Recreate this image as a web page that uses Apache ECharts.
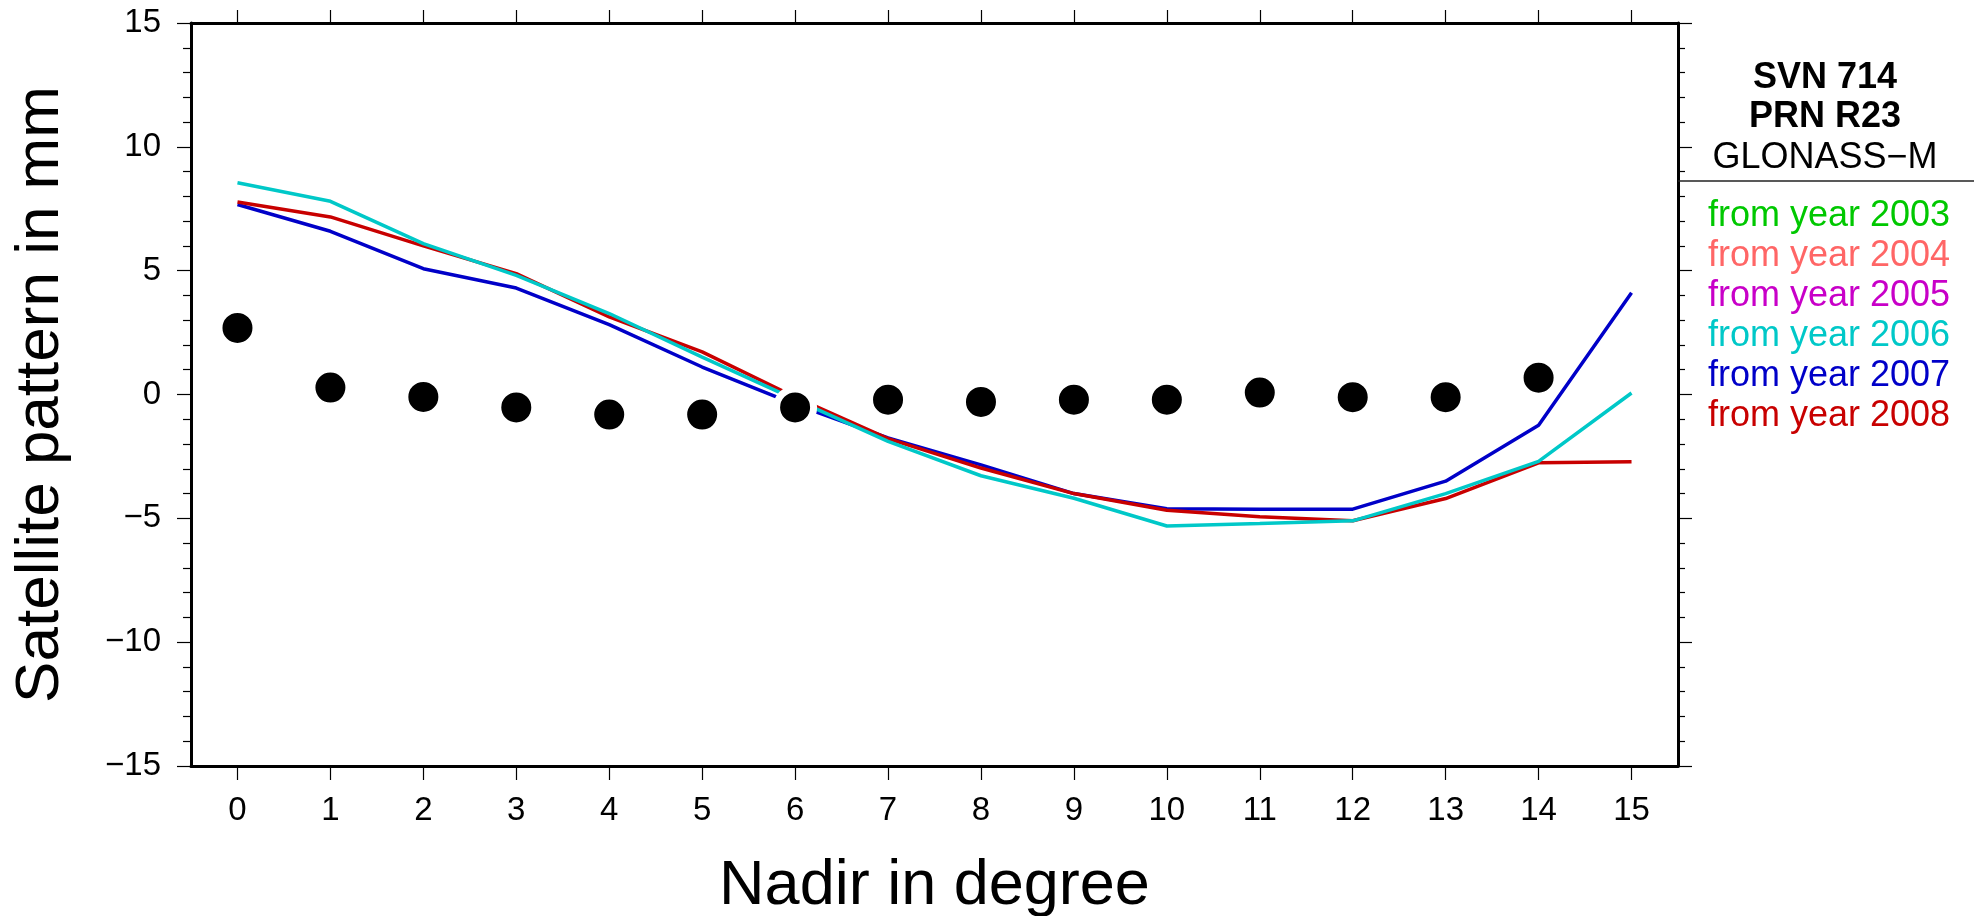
<!DOCTYPE html>
<html>
<head>
<meta charset="utf-8">
<title>SVN 714 satellite pattern</title>
<script src="https://cdn.jsdelivr.net/npm/echarts/dist/echarts.min.js"></script>
<style>
  html, body { margin: 0; padding: 0; background: #fff; }
  #chart { width: 1974px; height: 916px; }
</style>
</head>
<body>
<div id="chart"></div>
<script>
// nadir angle categories (degree)
var nadir = ['0','1','2','3','4','5','6','7','8','9','10','11','12','13','14','15'];

// pattern values in mm
var pattern2003 = [];
var pattern2004 = [];
var pattern2005 = [];
var pattern2006 = [8.55, 7.8, 6.09, 4.81, 3.27, 1.51, -0.2, -1.89, -3.28, -4.19, -5.31, -5.21, -5.1, -4.0, -2.7, 0.06];
var pattern2007 = [7.67, 6.59, 5.08, 4.3, 2.82, 1.11, -0.4, -1.75, -2.84, -4.0, -4.61, -4.63, -4.63, -3.5, -1.24, 4.11];
var pattern2008 = [7.77, 7.17, 6.0, 4.88, 3.13, 1.72, -0.1, -1.78, -2.97, -4.0, -4.67, -4.94, -5.1, -4.2, -2.76, -2.72];
// black dots
var dots = [2.69, 0.28, -0.1, -0.52, -0.81, -0.81, -0.52, -0.21, -0.3, -0.21, -0.21, 0.08, -0.11, -0.11, 0.68, null];

var years = ['2003', '2004', '2005', '2006', '2007', '2008'];
var yearColors = ['#00c800', '#ff6666', '#c800c8', '#00c8c8', '#0000c8', '#c80000'];
var headerLines = ['SVN 714', 'PRN R23', 'GLONASS\u2212M'];

var FONT = '"Liberation Sans", Arial, Helvetica, sans-serif';

var chart = echarts.init(document.getElementById('chart'));

var minus = function (v) {
  return v < 0 ? '\u2212' + Math.abs(v) : '' + v;
};

var frameLine = { show: true, onZero: false, lineStyle: { color: '#000', width: 3 } };

var lineSeries = function (idx, data, z) {
  return {
    name: 'from year ' + years[idx],
    type: 'line',
    data: data,
    symbol: 'none',
    z: z,
    lineStyle: { color: yearColors[idx], width: 3.5 },
    itemStyle: { color: yearColors[idx] }
  };
};

var legendData = [];
for (var i = 0; i < years.length; i++) {
  legendData.push({ name: 'from year ' + years[i], textStyle: { color: yearColors[i] } });
}

var option = {
  animation: false,
  backgroundColor: '#fff',
  textStyle: { fontFamily: FONT },
  grid: { left: 191, right: 296, top: 23, bottom: 150, containLabel: false, outerBoundsMode: 'none' },
  legend: {
    data: legendData,
    orient: 'vertical',
    left: 1698,
    top: 193,
    icon: 'none',
    itemWidth: 0,
    itemHeight: 36,
    itemGap: 4,
    selectedMode: false,
    textStyle: { fontSize: 36, fontFamily: FONT }
  },
  xAxis: [
    {
      type: 'category',
      data: nadir,
      position: 'bottom',
      boundaryGap: true,
      axisLine: frameLine,
      axisTick: { show: true, alignWithLabel: true, interval: 0, length: 14, lineStyle: { color: '#000', width: 1.2 } },
      axisLabel: { interval: 0, fontSize: 33, color: '#000', margin: 28, fontFamily: FONT },
      splitLine: { show: false },
      name: 'Nadir in degree',
      nameLocation: 'middle',
      nameGap: 89,
      nameTextStyle: { fontSize: 63, color: '#000', fontFamily: FONT }
    },
    {
      type: 'category',
      data: nadir,
      position: 'top',
      boundaryGap: true,
      axisLine: frameLine,
      axisTick: { show: true, alignWithLabel: true, interval: 0, length: 13, lineStyle: { color: '#000', width: 1.2 } },
      axisLabel: { show: false },
      splitLine: { show: false }
    }
  ],
  yAxis: [
    {
      type: 'value',
      position: 'left',
      min: -15,
      max: 15,
      interval: 5,
      axisLine: frameLine,
      axisTick: { show: true, length: 14, lineStyle: { color: '#000', width: 1.2 } },
      minorTick: { show: true, splitNumber: 5, length: 8, lineStyle: { color: '#000', width: 1.2 } },
      axisLabel: { fontSize: 33, color: '#000', margin: 30, fontFamily: FONT, formatter: minus },
      splitLine: { show: false },
      name: 'Satellite pattern in mm',
      nameLocation: 'middle',
      nameGap: 119,
      nameTextStyle: { fontSize: 62, color: '#000', fontFamily: FONT }
    },
    {
      type: 'value',
      position: 'right',
      min: -15,
      max: 15,
      interval: 5,
      axisLine: frameLine,
      axisTick: { show: true, length: 14, lineStyle: { color: '#000', width: 1.2 } },
      minorTick: { show: true, splitNumber: 5, length: 7, lineStyle: { color: '#000', width: 1.2 } },
      axisLabel: { show: false },
      splitLine: { show: false }
    }
  ],
  series: [
    lineSeries(0, pattern2003, 2),
    lineSeries(1, pattern2004, 2),
    lineSeries(2, pattern2005, 2),
    lineSeries(4, pattern2007, 3),
    lineSeries(5, pattern2008, 4),
    lineSeries(3, pattern2006, 5),
    {
      name: 'dots',
      type: 'scatter',
      data: dots,
      symbol: 'circle',
      symbolSize: 37,
      z: 10,
      itemStyle: { color: '#000', borderColor: '#fff', borderWidth: 7, opacity: 1 }
    }
  ],
  graphic: [
    {
      type: 'text', x: 1825, y: 78, z: 20,
      style: { text: headerLines[0], fill: '#000', font: 'bold 36px ' + FONT, textAlign: 'center', textVerticalAlign: 'middle' }
    },
    {
      type: 'text', x: 1825, y: 117, z: 20,
      style: { text: headerLines[1], fill: '#000', font: 'bold 36px ' + FONT, textAlign: 'center', textVerticalAlign: 'middle' }
    },
    {
      type: 'text', x: 1825, y: 158, z: 20,
      style: { text: headerLines[2], fill: '#000', font: '36px ' + FONT, textAlign: 'center', textVerticalAlign: 'middle' }
    },
    {
      type: 'line', z: 20,
      shape: { x1: 1678, y1: 181, x2: 1974, y2: 181 },
      style: { stroke: '#222', lineWidth: 1.5 }
    }
  ]
};

chart.setOption(option);
</script>
</body>
</html>
